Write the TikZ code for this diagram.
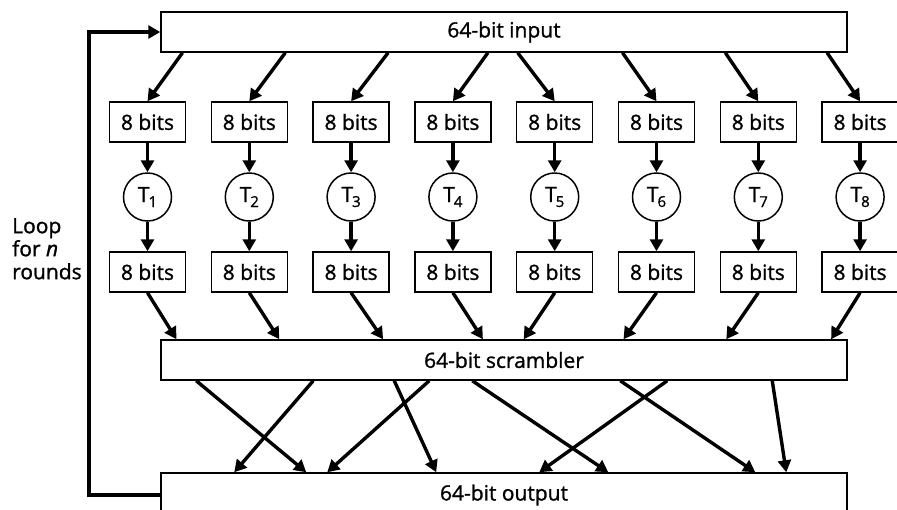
\documentclass[tikz,border=0pt]{standalone}
\usepackage{fontspec}
\setmainfont{Open Sans}[FakeBold=1.2]
\usetikzlibrary{arrows.meta,calc}
\begin{document}
\begin{tikzpicture}[x=1pt,y=-1pt,
  every node/.style={font=\fontsize{21}{23}\selectfont, inner sep=0pt},
  bitbox/.style={draw, line width=1.5pt, minimum width=76pt, minimum height=40pt},
  widebox/.style={draw, line width=1.5pt, minimum width=686pt, minimum height=40pt},
  tcirc/.style={draw, circle, line width=1.5pt, minimum size=48pt},
  arr/.style={line width=3.4pt, -{Triangle[length=12pt,width=13pt]}},
  looparr/.style={line width=4pt, line join=miter, -{Triangle[length=12pt,width=13pt]}},
]
\useasboundingbox (0,0) rectangle (897,509);
\fill[white] (0,0) rectangle (897,509);

\node[widebox] (in) at (504,32) {64-bit input};
\node[widebox] (sc) at (504,360) {64-bit scrambler};
\node[widebox, minimum height=44pt] (out) at (504,495) {64-bit output};

\foreach \i in {1,...,8} {
  \pgfmathsetmacro\cx{147.5+101.8*(\i-1)}
  \node[bitbox] (t\i) at (\cx,122) {8 bits};
  \node[tcirc] (c\i) at (\cx,197) {T\kern-1pt\raisebox{-5pt}{\fontsize{15}{15}\selectfont\i}};
  \node[bitbox] (b\i) at (\cx,272) {8 bits};
  \draw[arr] (t\i) -- (c\i);
  \draw[arr] (c\i) -- (b\i);
}

\foreach \i/\d in {1/35,2/36,3/37,4/35,5/-37,6/-34,7/-33,8/-33}
  \draw[arr] ($(t\i.north |- in.south)+(\d,0)$) -- (t\i.north);

\foreach \i/\d in {1/29,2/30,3/32,4/30,5/-31,6/-33,7/-32,8/-29}
  \draw[arr] (b\i.south) -- ($(b\i.south |- sc.north)+(\d,0)$);

\foreach \s/\e in {36/146, 153/74, 234/276, 269/167, 312/448, 507/379, 460/595, 612/626}
  \draw[arr] ($(sc.south west)+(\s,0)$) -- ($(out.north west)+(\e,0)$);

\coordinate (lp) at (89,0);
\draw[looparr] (out.west) -- (out.west -| lp) -- (in.west -| lp) -- (in.west);

\node[anchor=north west, align=left] (lbl) at (12,218) {Loop\\for \textit{n}\\rounds};
\end{tikzpicture}
\end{document}
